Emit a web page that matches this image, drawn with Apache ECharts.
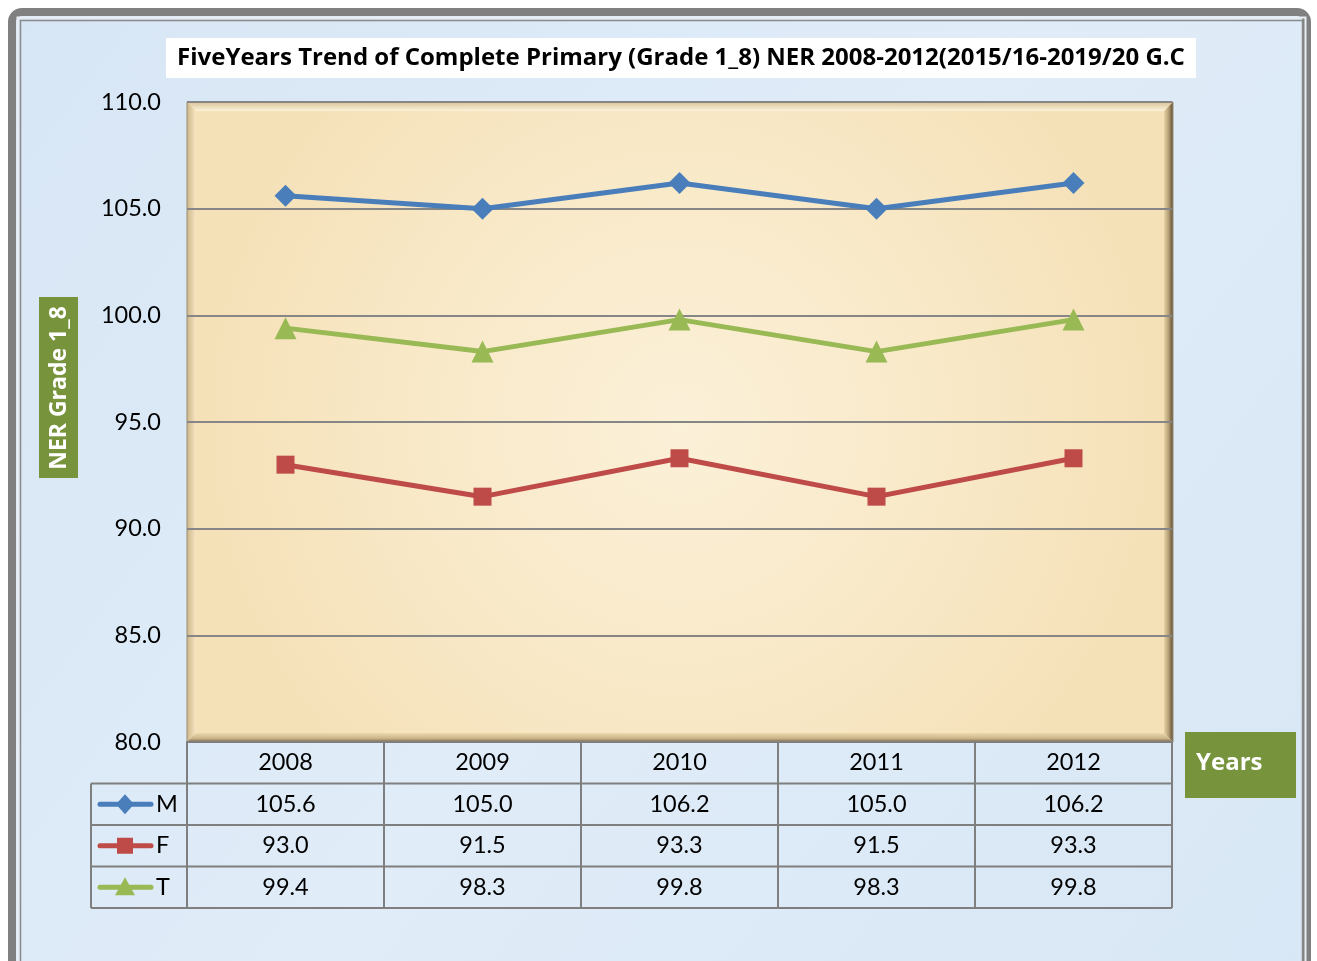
<!DOCTYPE html>
<html>
<head>
<meta charset="utf-8">
<script src="https://cdn.jsdelivr.net/npm/echarts@6/dist/echarts.min.js"></script>
<style>
html,body{margin:0;padding:0;background:#ffffff;}
#chart{width:1317px;height:961px;}
</style>
</head>
<body>
<div id="chart"></div>
<script>
// ---- data ----
const categories = ['2008', '2009', '2010', '2011', '2012'];
const maleNER = [105.6, 105.0, 106.2, 105.0, 106.2];
const femaleNER = [93.0, 91.5, 93.3, 91.5, 93.3];
const totalNER = [99.4, 98.3, 99.8, 98.3, 99.8];
const seriesNames = ['M', 'F', 'T'];
const yMin = 80, yMax = 110, yStep = 5;
const titleText = 'FiveYears Trend of Complete Primary (Grade 1_8) NER 2008-2012(2015/16-2019/20 G.C';
const yAxisTitle = 'NER Grade 1_8';
const xAxisTitle = 'Years';

const seriesValues = [maleNER, femaleNER, totalNER];
const colors = ['#4a7ebb', '#be4b48', '#98b954'];
const symbols = ['diamond', 'rect', 'triangle'];
const symbolSizes = [22, 18, 22];
const FONT = 'Lato, "Noto Sans", sans-serif';
const BOLD = '"Open Sans", "Noto Sans", sans-serif';

const chart = echarts.init(document.getElementById('chart'), null, {renderer: 'canvas'});

const G = {left: 187, top: 102, width: 985, height: 640};

chart.setOption({
  animation: false,
  grid: {left: G.left, top: G.top, width: G.width, height: G.height, containLabel: false},
  xAxis: {
    type: 'category',
    data: categories,
    boundaryGap: true,
    axisLabel: {show: false},
    axisTick: {show: false},
    axisLine: {show: true, lineStyle: {color: '#7f7f7f', width: 2}},
    z: 3
  },
  yAxis: {
    type: 'value',
    min: yMin, max: yMax, interval: yStep,
    axisLine: {show: false},
    axisTick: {show: false},
    axisLabel: {
      formatter: v => v.toFixed(1),
      fontFamily: FONT, fontSize: 23.5, color: '#000', margin: 26
    },
    splitLine: {show: true, lineStyle: {color: '#868686', width: 2}}
  },
  series: seriesNames.map((n, i) => ({
    name: n,
    type: 'line',
    data: seriesValues[i],
    symbol: symbols[i],
    symbolSize: symbolSizes[i],
    showAllSymbol: true,
    lineStyle: {color: colors[i], width: 5},
    itemStyle: {color: colors[i]},
    z: 5
  }))
});

// ---- decorations and data table ----
const els = [];
els.push({type: 'rect', z: -30, shape: {x: 12, y: 12, width: 1295, height: 960, r: 10},
  style: {fill: new echarts.graphic.LinearGradient(0, 0, 1, 1, [
    {offset: 0, color: '#d7e6f5'}, {offset: 0.5, color: '#e0ecf8'}, {offset: 1, color: '#d8e7f5'}]),
    stroke: '#808080', lineWidth: 8}});
els.push({type: 'rect', z: -29, shape: {x: 20.5, y: 20.5, width: 1282, height: 950},
  style: {fill: null, stroke: '#8a8a8a', lineWidth: 1.5}});
els.push({type: 'rect', z: -29, shape: {x: 17.5, y: 17.5, width: 1288, height: 956},
  style: {fill: null, stroke: '#e9eef4', lineWidth: 2}});

// title box
els.push({type: 'rect', z: -20, shape: {x: 166, y: 38, width: 1030, height: 40}, style: {fill: '#ffffff'}});
els.push({type: 'text', z: 10, x: 681, y: 58,
  style: {text: titleText, fontFamily: BOLD, fontWeight: 'bold', fontSize: 24, fill: '#000',
    align: 'center', verticalAlign: 'middle'}});

// plot area with bevel
const x0 = G.left, y0 = G.top, x1 = G.left + G.width + 1, y1 = G.top + G.height, b = 9;
els.push({type: 'rect', z: -20, shape: {x: x0, y: y0, width: x1 - x0, height: y1 - y0},
  style: {fill: new echarts.graphic.RadialGradient(0.5, 0.5, 0.75, [
    {offset: 0, color: '#fbf0d8'}, {offset: 0.6, color: '#f8e8c6'}, {offset: 1, color: '#f5e1b8'}])}});
els.push({type: 'polygon', z: -19, shape: {points: [[x0, y0], [x1, y0], [x1 - b, y0 + b], [x0 + b, y0 + b]]},
  style: {fill: new echarts.graphic.LinearGradient(0, 0, 0, 1, [
    {offset: 0, color: '#d8c397'}, {offset: 1, color: '#fcf3dc'}])}});
els.push({type: 'polygon', z: -19, shape: {points: [[x0, y0], [x0 + b, y0 + b], [x0 + b, y1 - b], [x0, y1]]},
  style: {fill: new echarts.graphic.LinearGradient(0, 0, 1, 0, [
    {offset: 0, color: '#cdb68a'}, {offset: 1, color: '#f7e6c2'}])}});
els.push({type: 'polygon', z: -19, shape: {points: [[x1, y0], [x1, y1], [x1 - b, y1 - b], [x1 - b, y0 + b]]},
  style: {fill: new echarts.graphic.LinearGradient(0, 0, 1, 0, [
    {offset: 0, color: '#e9d4a6'}, {offset: 0.5, color: '#b59f76'}, {offset: 1, color: '#5e4d36'}])}});
els.push({type: 'polygon', z: -19, shape: {points: [[x0, y1], [x1, y1], [x1 - b, y1 - b], [x0 + b, y1 - b]]},
  style: {fill: new echarts.graphic.LinearGradient(0, 0, 0, 1, [
    {offset: 0, color: '#edd9ad'}, {offset: 0.6, color: '#cbb48a'}, {offset: 1, color: '#7a684b'}])}});
els.push({type: 'rect', z: -18, shape: {x: x0, y: y0, width: x1 - x0, height: y1 - y0},
  style: {fill: null, stroke: '#9a8c74', lineWidth: 1}});

// y-axis title box
els.push({type: 'rect', z: 1, shape: {x: 39, y: 297, width: 39, height: 181}, style: {fill: '#77933c'}});
els.push({type: 'text', z: 2, x: 59, y: 388, rotation: Math.PI / 2,
  style: {text: yAxisTitle, fontFamily: BOLD, fontWeight: 'bold', fontSize: 23, fill: '#ffffff',
    align: 'center', verticalAlign: 'middle'}});

// Years box
els.push({type: 'rect', z: 1, shape: {x: 1185, y: 732, width: 111, height: 66}, style: {fill: '#77933c'}});
els.push({type: 'text', z: 2, x: 1196, y: 763,
  style: {text: xAxisTitle, fontFamily: BOLD, fontWeight: 'bold', fontSize: 24, fill: '#ffffff',
    align: 'left', verticalAlign: 'middle'}});

// data table
const centers = categories.map(c => chart.convertToPixel({xAxisIndex: 0}, c));
const band = G.width / categories.length;
const tableTop = G.top + G.height;
const rowH = 41.5;
const legendLeft = 91;
const tableRight = G.left + G.width;
const lineC = '#7f7f7f';
for (let i = 0; i <= categories.length; i++) {
  const x = G.left + i * band;
  els.push({type: 'line', z: 3, shape: {x1: x, y1: tableTop, x2: x, y2: tableTop + rowH * 4},
    style: {stroke: lineC, lineWidth: 2}});
}
els.push({type: 'line', z: 3, shape: {x1: legendLeft, y1: tableTop + rowH, x2: legendLeft, y2: tableTop + rowH * 4},
  style: {stroke: lineC, lineWidth: 2}});
for (let r = 1; r <= 4; r++) {
  const y = tableTop + rowH * r;
  els.push({type: 'line', z: 3, shape: {x1: legendLeft, y1: y, x2: tableRight, y2: y},
    style: {stroke: lineC, lineWidth: 2}});
}
categories.forEach((c, i) => {
  els.push({type: 'text', z: 4, x: centers[i], y: tableTop + rowH * 0.5,
    style: {text: c, fontFamily: FONT, fontSize: 23.5, fill: '#000', align: 'center', verticalAlign: 'middle'}});
});
seriesNames.forEach((n, s) => {
  const cy = tableTop + rowH * (s + 1.5);
  seriesValues[s].forEach((v, i) => {
    els.push({type: 'text', z: 4, x: centers[i], y: cy,
      style: {text: v.toFixed(1), fontFamily: FONT, fontSize: 23.5, fill: '#000', align: 'center', verticalAlign: 'middle'}});
  });
  els.push({type: 'line', z: 4, shape: {x1: 100, y1: cy, x2: 151, y2: cy},
    style: {stroke: colors[s], lineWidth: 5, lineCap: 'round'}});
  const mx = 125;
  if (symbols[s] === 'diamond') {
    els.push({type: 'polygon', z: 5, shape: {points: [[mx, cy - 10], [mx + 9, cy], [mx, cy + 10], [mx - 9, cy]]}, style: {fill: colors[s]}});
  } else if (symbols[s] === 'rect') {
    els.push({type: 'rect', z: 5, shape: {x: mx - 8, y: cy - 8, width: 16, height: 16}, style: {fill: colors[s]}});
  } else {
    els.push({type: 'polygon', z: 5, shape: {points: [[mx, cy - 10], [mx + 10, cy + 8], [mx - 10, cy + 8]]}, style: {fill: colors[s]}});
  }
  els.push({type: 'text', z: 4, x: 156, y: cy,
    style: {text: n, fontFamily: FONT, fontSize: 23.5, fill: '#000', align: 'left', verticalAlign: 'middle'}});
});

chart.setOption({graphic: {elements: els}});
</script>
</body>
</html>
